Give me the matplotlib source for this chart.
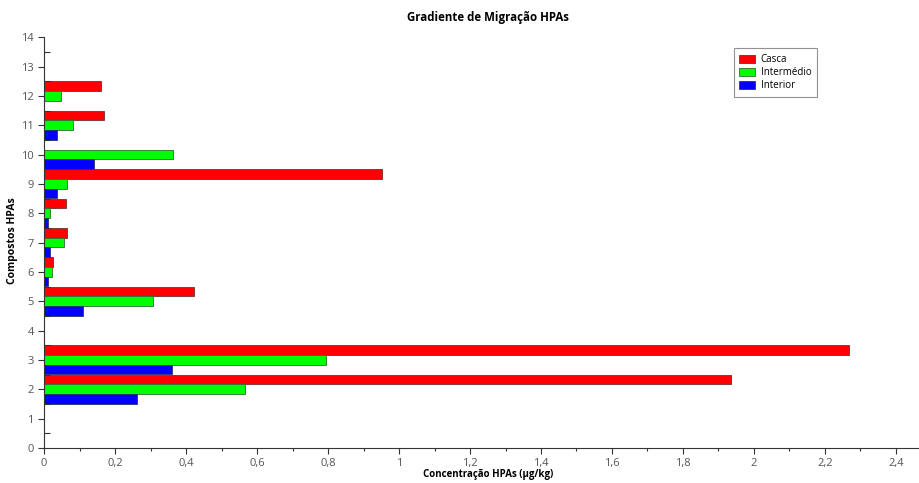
import numpy as np
import matplotlib.pyplot as plt
from matplotlib.ticker import MultipleLocator, FuncFormatter

plt.rcParams['font.family'] = ['Open Sans', 'DejaVu Sans']

compostos = [2, 3, 5, 6, 7, 8, 9, 10, 11, 12]
casca = [1.934, 2.268, 0.423, 0.025, 0.065, 0.062, 0.952, 0.0, 0.169, 0.161]
intermedio = [0.566, 0.794, 0.306, 0.023, 0.056, 0.017, 0.065, 0.363, 0.082, 0.048]
interior = [0.261, 0.360, 0.110, 0.011, 0.017, 0.011, 0.037, 0.141, 0.037, 0.0]

fig = plt.figure(figsize=(9.19, 4.83), dpi=100)
ax = fig.add_axes([0.048, 0.0725, 0.952, 0.8505])

y = np.array(compostos, dtype=float)
h = 0.33
ax.barh(y + h, casca, height=h, color='#ff0000', edgecolor='#6b3030', linewidth=0.6, label='Casca')
ax.barh(y, intermedio, height=h, color='#00ff00', edgecolor='#2f6b2f', linewidth=0.6, label='Intermédio')
ax.barh(y - h, interior, height=h, color='#0000ff', edgecolor='#30306b', linewidth=0.6, label='Interior')

ax.set_xlim(0, 2.465)
ax.set_ylim(0, 14)
ax.yaxis.set_major_locator(MultipleLocator(1))
ax.yaxis.set_minor_locator(MultipleLocator(0.5))
ax.xaxis.set_major_locator(MultipleLocator(0.2))
ax.xaxis.set_minor_locator(MultipleLocator(0.1))
ax.xaxis.set_major_formatter(FuncFormatter(lambda v, p: ('%g' % round(v, 2)).replace('.', ',')))

for s in ['top', 'right']:
    ax.spines[s].set_visible(False)
for s in ['left', 'bottom']:
    ax.spines[s].set_color('#333333')
    ax.spines[s].set_linewidth(0.8)

ax.tick_params(axis='both', which='major', labelsize=8, labelcolor='#555555', color='#333333', length=4, width=0.8)
ax.tick_params(axis='both', which='minor', color='#333333', length=2.5, width=0.8)
ax.tick_params(axis='y', which='minor', direction='in', length=4)

ax.set_title('Gradiente de Migração HPAs', fontsize=8.3, fontweight='bold', x=0.507, y=1.0, pad=12)
ax.set_xlabel('Concentração HPAs (µg/kg)', fontsize=7, fontweight='bold')
ax.xaxis.set_label_coords(0.507, -0.05)
ax.set_ylabel('Compostos HPAs', fontsize=7.5, fontweight='bold')
ax.yaxis.set_label_coords(-0.03, 0.505)

leg = ax.legend(loc='upper left', bbox_to_anchor=(0.788, 0.973), borderaxespad=0, fontsize=7,
                fancybox=False, handlelength=1.6, handleheight=0.9, borderpad=0.6,
                labelspacing=0.2, handletextpad=0.6)
leg.get_frame().set_edgecolor('#777777')
leg.get_frame().set_linewidth(0.8)

fig.savefig('out.png', dpi=100)
